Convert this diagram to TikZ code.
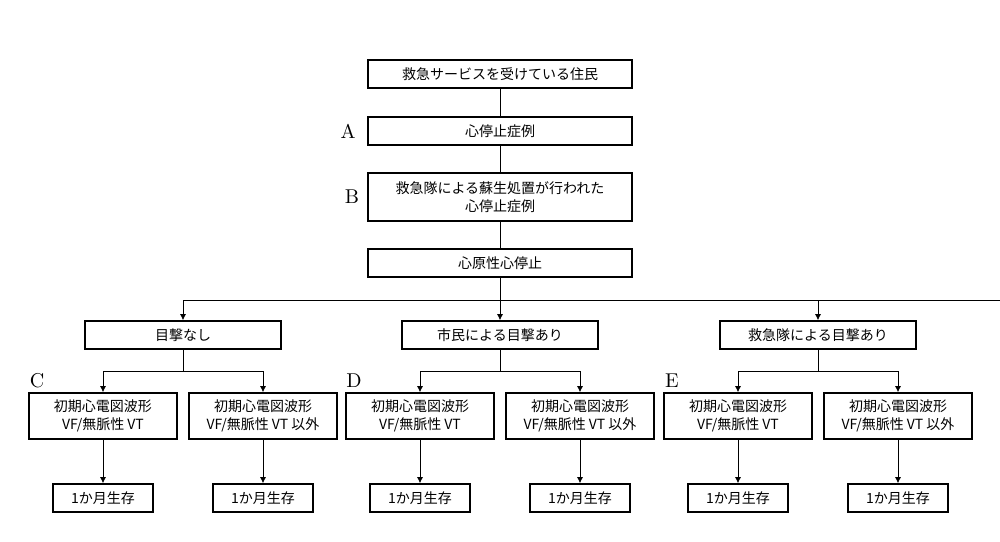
\documentclass[tikz,border=0pt]{standalone}
\usepackage{fontspec}
\newfontfamily\cjk{Noto Sans CJK JP}
\usetikzlibrary{arrows.meta}
\tikzset{box/.style = {draw, thick, inner sep = 0, align = center, font = \cjk\fontsize{7}{9}\selectfont},
         tip/.style = {-{Latex[length=3pt,width=3pt]}},
         tag/.style = {font = \fontsize{10}{10}\selectfont}}

\begin{document}
\begin{tikzpicture}[x=0.5pt, y=-0.5pt]
      \useasboundingbox (0, 0) rectangle (1000, 541);

      \node [box, minimum width=132pt, minimum height=14pt] (res) at (500, 74) {救急サービスを受けている住民};
      \node [box, minimum width=132pt, minimum height=14pt] (ca) at (500, 131) {心停止症例};
      \node [box, minimum width=132pt, minimum height=24pt] (cpr) at (500, 197) {救急隊による蘇生処置が行われた\\心停止症例};
      \node [box, minimum width=132pt, minimum height=14pt] (card) at (500, 263) {心原性心停止};

      \node [tag] at (348, 131) {A};
      \node [tag] at (352, 197) {B};

      \draw (res) -- (ca);
      \draw (ca) -- (cpr);
      \draw (cpr) -- (card);

      \coordinate (split) at (500, 300);
      \draw (card) -- (split);

      \foreach \x/\n/\t/\l in {183/no/目撃なし/C, 500/cit/市民による目撃あり/D, 818/ems/救急隊による目撃あり/E}{
        \begin{scope}[shift={(\x, 0)}]
          \node [box, minimum width=98pt, minimum height=14pt] (\n) at (0, 335) {\t};
          \node [box, minimum width=74pt, minimum height=23pt] (\n vf) at (-80, 416) {初期心電図波形\\VF/無脈性 VT};
          \node [box, minimum width=74pt, minimum height=23pt] (\n nvf) at (80, 416) {初期心電図波形\\VF/無脈性 VT 以外};
          \node [box, minimum width=50pt, minimum height=14pt] (\n vfs) at (-80, 498) {1か月生存};
          \node [box, minimum width=50pt, minimum height=14pt] (\n nvfs) at (80, 498) {1か月生存};
          \node [tag] at (-146, 381) {\l};

          \coordinate (\n split) at (0, 371);
          \draw [tip] (\x, 300) -| (\n);
          \draw (\n) -- (\n split);
          \draw [tip] (\n split) -| (\n vf);
          \draw [tip] (\n split) -| (\n nvf);
          \draw [tip] (\n vf) -- (\n vfs);
          \draw [tip] (\n nvf) -- (\n nvfs);
        \end{scope}
      }

      \draw (183, 300) -- (818, 300);
    \end{tikzpicture}
\end{document}
